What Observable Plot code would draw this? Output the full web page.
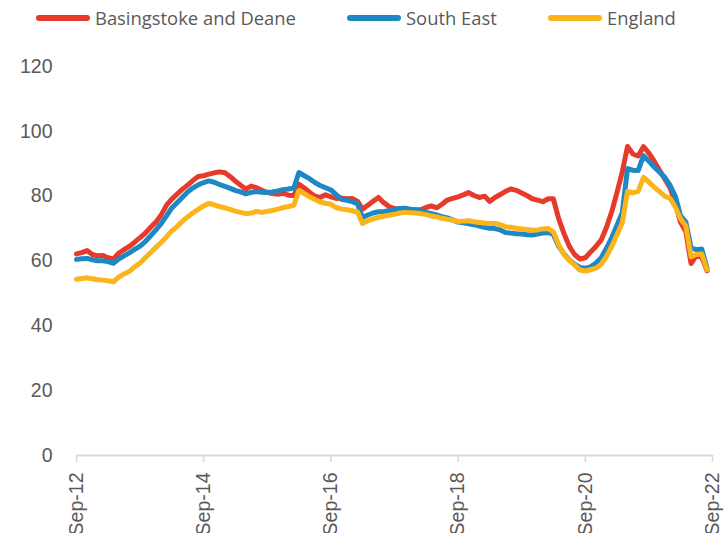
<!DOCTYPE html>
<html>
<head>
<meta charset="utf-8">
<script src="https://cdn.jsdelivr.net/npm/d3@7"></script>
<script src="https://cdn.jsdelivr.net/npm/@observablehq/plot@0.6"></script>
<style>
  html, body { margin: 0; padding: 0; background: #fff; }
  #wrap { position: relative; width: 728px; height: 533px; overflow: hidden; }
  #legend { position: relative; height: 36px; font-family: "Open Sans", sans-serif; font-size: 18.4px; color: #595959; }
  .item { position: absolute; top: 5px; display: flex; align-items: center; white-space: nowrap; }
  .sw { width: 54px; height: 6px; border-radius: 3px; margin-right: 5px; }
  #chart svg { display: block; }
</style>
</head>
<body>
<div id="wrap">
  <div id="legend"></div>
  <div id="chart"></div>
</div>
<script>
// Series names and colours
const seriesNames = ["Basingstoke and Deane", "South East", "England"];
const seriesColors = ["#E63A2B", "#1E88C4", "#FBB41A"];

// First month of the data (Sep 2012), monthly through Aug 2022
const startYear = 2012, startMonth = 8;

// Tick labels on the x axis (every two years)
const tickLabels = ["Sep-12", "Sep-14", "Sep-16", "Sep-18", "Sep-20", "Sep-22"];
const yTicks = [0, 20, 40, 60, 80, 100, 120];

// Basingstoke and Deane (monthly values)
const basingstoke = [
  62.2, 62.6, 63.2, 62.0, 61.6, 61.7, 61.0, 60.6, 62.4, 63.5, 64.5, 65.8,
  67.2, 68.6, 70.4, 72.0, 74.3, 77.3, 79.0, 80.6, 82.1, 83.4, 84.8, 86.1,
  86.3, 86.8, 87.2, 87.5, 87.2, 86.0, 84.7, 83.4, 82.2, 83.1, 82.6, 81.8,
  81.2, 80.8, 80.6, 80.9, 80.3, 80.2, 83.7, 82.5, 81.2, 80.0, 79.6, 80.4,
  79.8, 79.3, 79.4, 79.2, 79.3, 78.4, 76.0, 77.2, 78.4, 79.6, 78.0, 76.8,
  76.2, 76.0, 76.0, 75.8, 75.7, 75.9, 76.5, 77.0, 76.4, 77.5, 78.8, 79.3,
  79.8, 80.4, 81.1, 80.2, 79.6, 80.0, 78.4, 79.6, 80.5, 81.5, 82.2, 81.8,
  81.0, 80.2, 79.2, 78.8, 78.3, 79.2, 79.2, 73.0, 68.5, 64.5, 62.0, 60.6,
  61.0, 62.8, 64.5, 66.5, 70.5, 75.5, 81.0, 87.5, 95.3, 93.0, 92.4, 95.3,
  93.3, 90.8, 88.0, 85.3, 82.5, 77.5, 72.0, 69.0, 59.2, 61.8, 61.2, 57.0
];

// South East (monthly values)
const southEast = [
  60.5, 60.7, 60.8, 60.4, 60.1, 60.1, 59.8, 59.3, 60.6, 61.6, 62.5, 63.6,
  64.6, 66.0, 67.8, 69.6, 71.6, 74.0, 76.3, 78.0, 79.6, 81.3, 82.5, 83.5,
  84.2, 84.7, 84.3, 83.6, 83.0, 82.4, 81.8, 81.3, 80.7, 81.2, 81.4, 81.2,
  81.1, 81.3, 81.6, 82.0, 82.2, 82.5, 87.3, 86.3, 85.4, 84.2, 83.3, 82.6,
  81.9, 80.5, 79.0, 78.7, 78.3, 77.6, 73.4, 74.2, 74.8, 75.2, 75.3, 75.5,
  75.8, 76.2, 76.3, 76.0, 75.8, 75.4, 75.0, 74.6, 74.2, 73.7, 73.3, 72.7,
  72.0, 71.8, 71.5, 71.2, 70.8, 70.4, 70.1, 70.0, 69.6, 68.8, 68.6, 68.4,
  68.3, 68.1, 68.0, 68.3, 68.6, 68.8, 68.2, 64.5, 62.2, 60.3, 59.0, 58.0,
  57.8, 58.2, 59.4, 61.0, 64.0, 67.4, 71.0, 75.0, 88.5, 88.0, 87.9, 92.5,
  90.8, 89.0, 87.4, 85.8, 83.3, 79.8, 74.0, 72.0, 64.0, 63.5, 63.7, 57.8
];

// England (monthly values)
const england = [
  54.4, 54.6, 54.8, 54.5, 54.2, 54.1, 53.9, 53.6, 55.0, 56.0, 56.8, 58.2,
  59.4, 61.0, 62.6, 64.2, 65.8, 67.5, 69.2, 70.6, 72.2, 73.6, 74.8, 75.9,
  77.0, 77.8, 77.3, 76.8, 76.4, 75.9, 75.4, 75.0, 74.6, 74.8, 75.3, 75.0,
  75.3, 75.6, 76.0, 76.5, 76.8, 77.2, 81.7, 80.8, 79.8, 79.0, 78.2, 77.8,
  77.5, 76.5, 76.0, 75.8, 75.5, 75.1, 71.6, 72.4, 73.0, 73.5, 73.8, 74.1,
  74.4, 74.8, 75.0, 74.9, 74.8, 74.6, 74.3, 73.9, 73.6, 73.2, 72.9, 72.6,
  72.2, 72.3, 72.4, 72.1, 71.9, 71.7, 71.6, 71.6, 71.2, 70.6, 70.4, 70.1,
  69.9, 69.7, 69.5, 69.6, 69.9, 70.0, 69.0, 65.0, 62.0, 60.2, 58.8, 57.2,
  56.9, 57.3, 57.8, 59.0, 61.5, 64.7, 68.0, 71.8, 81.5, 81.0, 81.5, 85.8,
  84.3, 82.8, 81.4, 80.0, 79.3, 76.5, 73.0, 70.8, 61.3, 62.0, 62.2, 57.3
];

const seriesValues = [basingstoke, southEast, england];

const monthDate = i => new Date(Date.UTC(startYear, startMonth + i, 1));
const rows = [];
seriesValues.forEach((vals, s) => {
  vals.forEach((v, i) => rows.push({ date: monthDate(i), value: v, series: seriesNames[s] }));
});
const tickDates = tickLabels.map((_, k) => monthDate(24 * k));

// Legend
const legend = document.getElementById("legend");
const legendLeft = [36, 347, 548];
seriesNames.forEach((name, s) => {
  const it = document.createElement("div");
  it.className = "item";
  it.style.left = legendLeft[s] + "px";
  it.innerHTML = `<span class="sw" style="background:${seriesColors[s]}"></span><span>${name}</span>`;
  legend.appendChild(it);
});

const axisFont = "'Liberation Sans', Arial, sans-serif";
const chart = Plot.plot({
  width: 728,
  height: 497,
  marginTop: 30,
  marginBottom: 78,
  marginLeft: 76,
  marginRight: 16,
  style: { fontFamily: axisFont, fontSize: "19.5px", color: "#595959", background: "#fff" },
  x: { type: "utc", domain: [monthDate(0), monthDate(120)] },
  y: { domain: [0, 120] },
  color: { domain: seriesNames, range: seriesColors },
  marks: [
    Plot.axisY({ ticks: yTicks, tickSize: 0, tickPadding: 24, label: null, fill: "#595959" }),
    Plot.axisX({ ticks: tickDates, tickFormat: (d) => tickLabels[tickDates.findIndex(t => +t === +d)], tickRotate: -90, tickSize: 7, tickPadding: 10, label: null, stroke: "#d9d9d9", strokeWidth: 1.5, fill: "#595959" }),
    Plot.ruleY([0], { stroke: "#d9d9d9", strokeWidth: 2 }),
    Plot.lineY(rows, { x: "date", y: "value", z: "series", stroke: "series", strokeWidth: 5, strokeLinejoin: "round", strokeLinecap: "round" })
  ]
});
document.getElementById("chart").appendChild(chart);
</script>
</body>
</html>
